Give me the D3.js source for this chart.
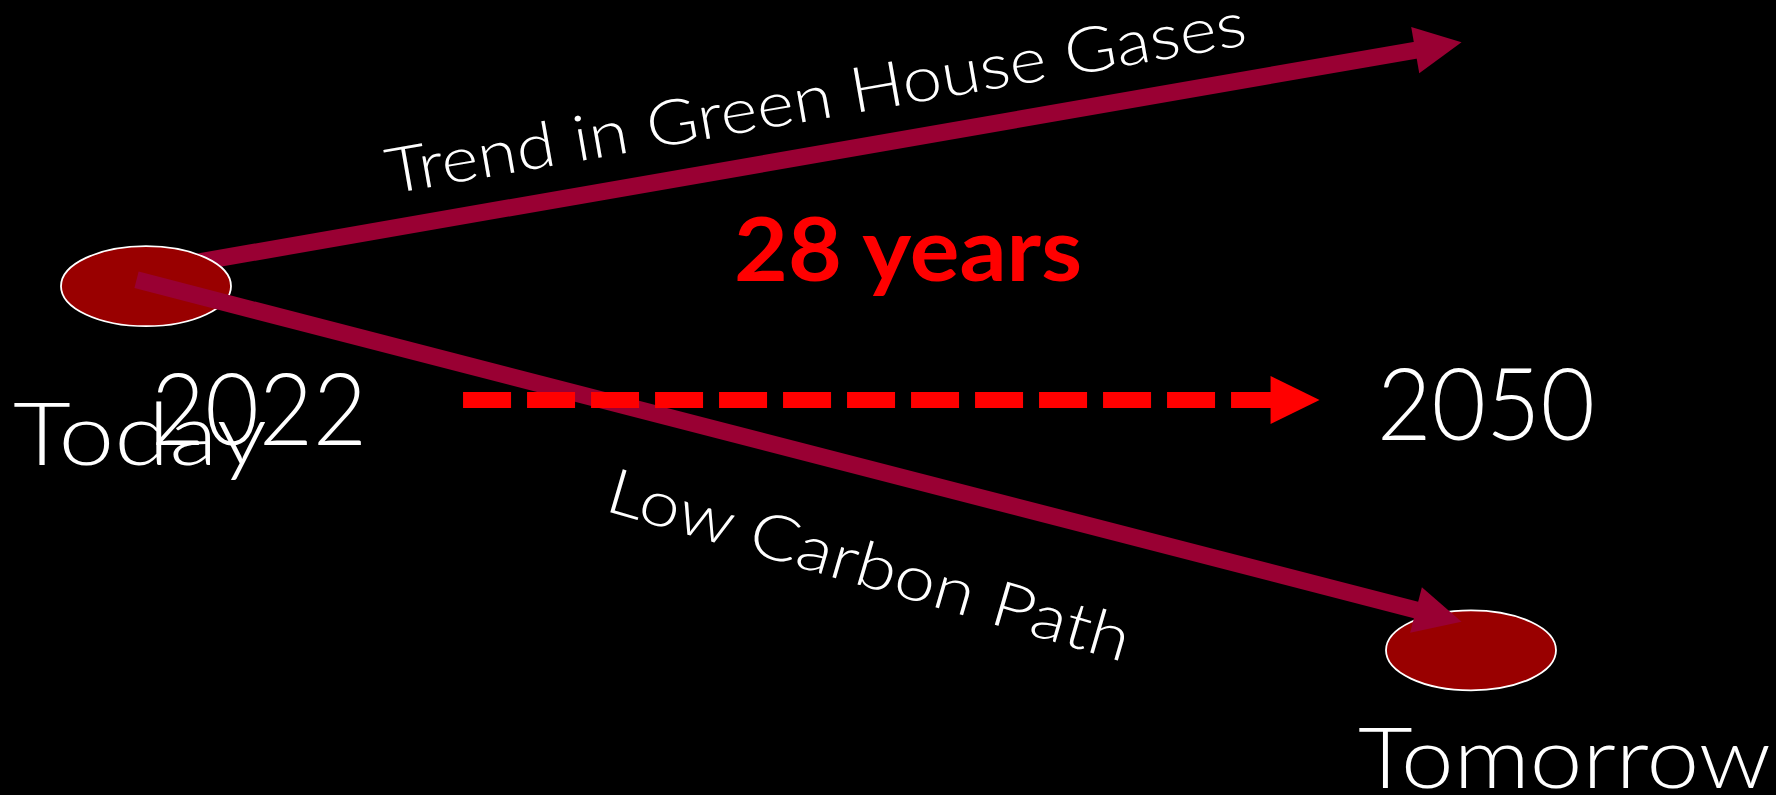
<!DOCTYPE html>
<html>
<head>
<meta charset="utf-8">
<script src="https://cdn.jsdelivr.net/npm/d3@7"></script>
<style>
  html, body { margin: 0; padding: 0; background: #000; overflow: hidden; }
  #chart { width: 1776px; height: 795px; }
  .lbl { fill: #fff; font-family: "Century Gothic", "URW Gothic", Lato, sans-serif; font-weight: 300; }
  .span { fill: #ff0000; font-family: "Century Gothic", "URW Gothic", Lato, sans-serif; font-weight: 700; }
</style>
</head>
<body>
<div id="chart"></div>
<script>
// Today -> Tomorrow emissions paths

// years on the horizontal, emission "level" (0-100) on the vertical
var years = [2022, 2050];
var yearLabels = ["2022", "2050"];
var nodeNames = ["Today", "Tomorrow"];
var nodeLevels = [64.0, 18.2];

// the two paths leaving today
var pathNames = ["Trend in Green House Gases", "Low Carbon Path"];
var pathFromYear = [2022.0, 2021.8];
var pathFromLevel = [65.9, 64.8];
var pathToYear = [2049.8, 2049.8];
var pathToLevel = [94.7, 21.8];

// the time span arrow
var spanLabel = "28 years";
var spanFromYear = 2028.7;
var spanToYear = 2046.8;
var spanLevel = 49.7;

var width = 1776;
var height = 795;

var svg = d3
    .select("#chart")
    .append("svg")
    .attr("width", width)
    .attr("height", height);

svg.append("rect").attr("width", width).attr("height", height).attr("fill", "#000");

var xScale = d3.scaleLinear().domain([2022, 2050]).range([146, 1471]);
var yScale = d3.scaleLinear().domain([0, 100]).range([height, 0]);

// draw an arrow: shaft as a thick line, head as a triangle
function arrow(g, x0, y0, x1, y1, opts) {
    var dx = x1 - x0, dy = y1 - y0;
    var len = Math.sqrt(dx * dx + dy * dy);
    var ux = dx / len, uy = dy / len;
    var nx = -uy, ny = ux;
    var bx = x1 - ux * opts.head, by = y1 - uy * opts.head;

    g.append("line")
        .attr("x1", x0).attr("y1", y0)
        .attr("x2", bx + ux * 1).attr("y2", by + uy * 1)
        .attr("stroke", opts.color)
        .attr("stroke-width", opts.w)
        .attr("stroke-dasharray", opts.dash || null);

    var hw = opts.headW / 2;
    g.append("path")
        .attr("d", d3.line()([
            [x1, y1],
            [bx + nx * hw, by + ny * hw],
            [bx - nx * hw, by - ny * hw]
        ]) + "Z")
        .attr("fill", opts.color);
}

function node(i) {
    svg.append("ellipse")
        .attr("cx", xScale(years[i]))
        .attr("cy", yScale(nodeLevels[i]))
        .attr("rx", 85)
        .attr("ry", 40)
        .attr("fill", "#990000")
        .attr("stroke", "#fff")
        .attr("stroke-width", 1.8);
}

var pathOpts = { color: "#990033", w: 17, head: 47, headW: 47 };

// 1. trend arrow (sits behind today's ellipse)
arrow(svg.append("g"),
    xScale(pathFromYear[0]), yScale(pathFromLevel[0]),
    xScale(pathToYear[0]), yScale(pathToLevel[0]), pathOpts);

// 2. the two ellipses
node(0);
node(1);

// 3. low carbon arrow (on top of the ellipses)
arrow(svg.append("g"),
    xScale(pathFromYear[1]), yScale(pathFromLevel[1]),
    xScale(pathToYear[1]), yScale(pathToLevel[1]), pathOpts);

// 4. dashed span arrow
arrow(svg.append("g"),
    xScale(spanFromYear), yScale(spanLevel),
    xScale(spanToYear), yScale(spanLevel),
    { color: "#ff0000", w: 16, head: 49, headW: 48, dash: "48 16" });

// Labels
function label(txt, x, y, size, len, rot, cls) {
    svg.append("text")
        .attr("class", cls || "lbl")
        .attr("transform", "translate(" + x + "," + y + ")" + (rot ? "rotate(" + rot + ")" : ""))
        .attr("font-size", size)
        .attr("textLength", len)
        .attr("lengthAdjust", "spacingAndGlyphs")
        .text(txt);
}

label(yearLabels[0], 151, 445, 100, 216);
label(yearLabels[1], 1377, 440, 100, 218);
label(nodeNames[0], 13, 465, 86, 254);
label(nodeNames[1], 1358, 788, 85, 413);
label(pathNames[0], 390, 194, 63, 872, -9.87);
label(pathNames[1], 603, 510, 63, 542, 16.3);
label(spanLabel, 734, 281, 88, 348, 0, "span");
</script>
</body>
</html>
